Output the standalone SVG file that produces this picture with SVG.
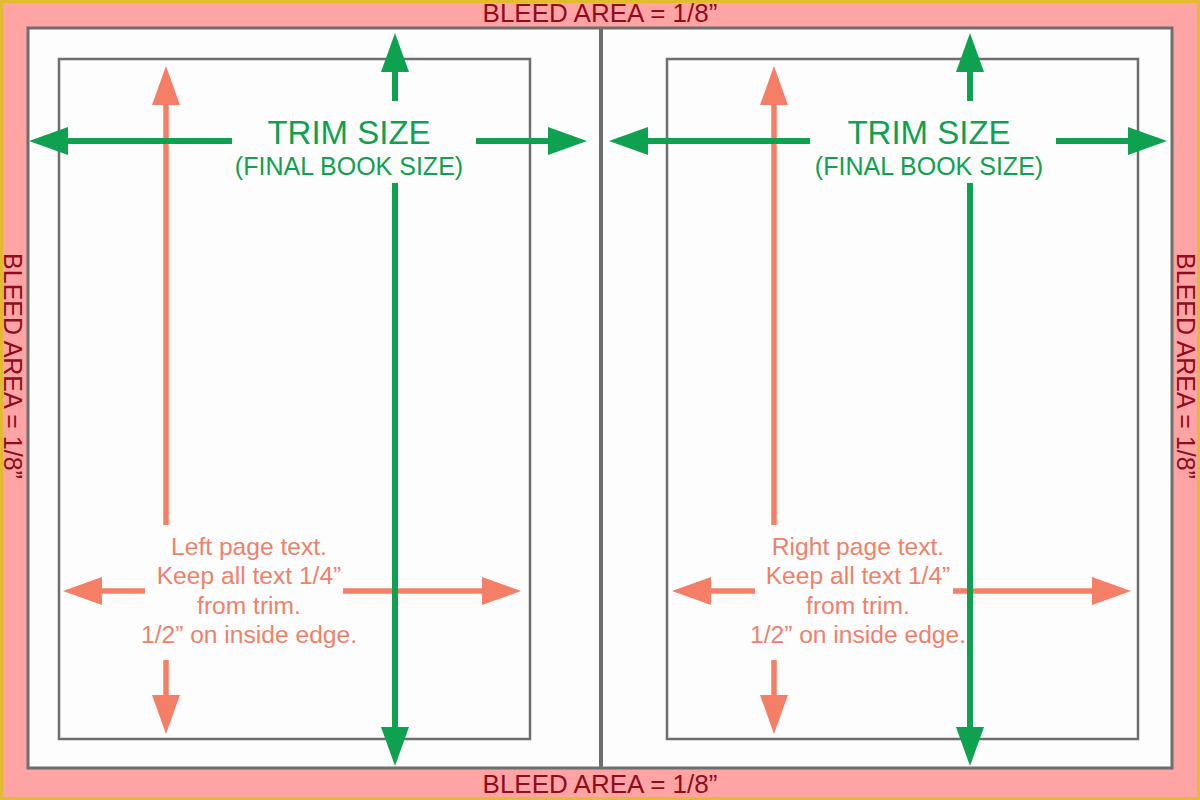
<svg xmlns="http://www.w3.org/2000/svg" width="1200" height="800" viewBox="0 0 1200 800">
<style>
.page{fill:#fdfdfd;stroke:#6e6e6e;stroke-width:3}
.trim{fill:none;stroke:#6e6e6e;stroke-width:2.5}
.g{stroke:#0ea14f;stroke-width:6;fill:none}
.s{stroke:#f47e66;stroke-width:5.5;fill:none}
.bleed{font-family:"Liberation Sans",Arial,sans-serif;font-size:26px;fill:#900c1c;text-anchor:middle}
.side{font-size:25px}
.t1{font-family:"Liberation Sans",Arial,sans-serif;font-size:33px;fill:#0ea14f;text-anchor:middle}
.t2{font-family:"Liberation Sans",Arial,sans-serif;font-size:25px;fill:#0ea14f;text-anchor:middle}
.st{font-family:"Liberation Sans",Arial,sans-serif;font-size:24.6px;fill:#f0806a;text-anchor:middle}
</style>
<defs>
<marker id="gh" markerUnits="userSpaceOnUse" markerWidth="40" markerHeight="30" refX="0" refY="14" orient="auto" overflow="visible">
<path d="M0,0 L39,14 L0,28 Z" fill="#0ea14f"/>
</marker>
<marker id="sh" markerUnits="userSpaceOnUse" markerWidth="40" markerHeight="30" refX="0" refY="14" orient="auto" overflow="visible">
<path d="M0,0 L39,14 L0,28 Z" fill="#f47e66"/>
</marker>
</defs>
<g id="bleed">
<rect x="1.5" y="1.5" width="1197" height="797" fill="#ffa4a4" stroke="#e2bb2e" stroke-width="3"/>
<text class="bleed" x="600" y="22">BLEED AREA = 1/8”</text>
<text class="bleed" x="600" y="793">BLEED AREA = 1/8”</text>
<text class="bleed side" transform="translate(4,366) rotate(90)">BLEED AREA = 1/8”</text>
<text class="bleed side" transform="translate(1177,366) rotate(90)">BLEED AREA = 1/8”</text>
</g>
<g id="pages">
<rect class="page" x="28" y="28" width="1144" height="740"/>
<line x1="601" y1="28" x2="601" y2="768" stroke="#6e6e6e" stroke-width="4"/>
</g>
<g id="left-trim">
<rect class="trim" x="59" y="59" width="471" height="680"/>
</g>
<g id="right-trim">
<rect class="trim" x="667" y="59" width="471" height="680"/>
</g>
<g id="connectors">
<path class="s" d="M166,525 V105" marker-end="url(#sh)"/>
<path class="s" d="M166,660 V695" marker-end="url(#sh)"/>
<path class="s" d="M145,591 H102" marker-end="url(#sh)"/>
<path class="s" d="M343,591 H482" marker-end="url(#sh)"/>
<path class="s" d="M774,525 V105" marker-end="url(#sh)"/>
<path class="s" d="M774,660 V695" marker-end="url(#sh)"/>
<path class="s" d="M755,591 H711" marker-end="url(#sh)"/>
<path class="s" d="M953,591 H1092" marker-end="url(#sh)"/>
<path class="g" d="M232,141 H68" marker-end="url(#gh)"/>
<path class="g" d="M476,141 H548" marker-end="url(#gh)"/>
<path class="g" d="M395,101 V72" marker-end="url(#gh)"/>
<path class="g" d="M395,183 V727" marker-end="url(#gh)"/>
<path class="g" d="M810,141 H648" marker-end="url(#gh)"/>
<path class="g" d="M1056,141 H1128" marker-end="url(#gh)"/>
<path class="g" d="M970,101 V72" marker-end="url(#gh)"/>
<path class="g" d="M970,183 V727" marker-end="url(#gh)"/>
</g>
<g id="left-trim-label">
<text class="t1" x="349" y="144">TRIM SIZE</text>
<text class="t2" x="349" y="175">(FINAL BOOK SIZE)</text>
</g>
<g id="right-trim-label">
<text class="t1" x="929" y="144">TRIM SIZE</text>
<text class="t2" x="929" y="175">(FINAL BOOK SIZE)</text>
</g>
<g id="left-text">
<text class="st" x="249" y="555">Left page text.</text>
<text class="st" x="249" y="584">Keep all text 1/4”</text>
<text class="st" x="249" y="614">from trim.</text>
<text class="st" x="249" y="643">1/2” on inside edge.</text>
</g>
<g id="right-text">
<text class="st" x="858" y="555">Right page text.</text>
<text class="st" x="858" y="584">Keep all text 1/4”</text>
<text class="st" x="858" y="614">from trim.</text>
<text class="st" x="858" y="643">1/2” on inside edge.</text>
</g>
</svg>
